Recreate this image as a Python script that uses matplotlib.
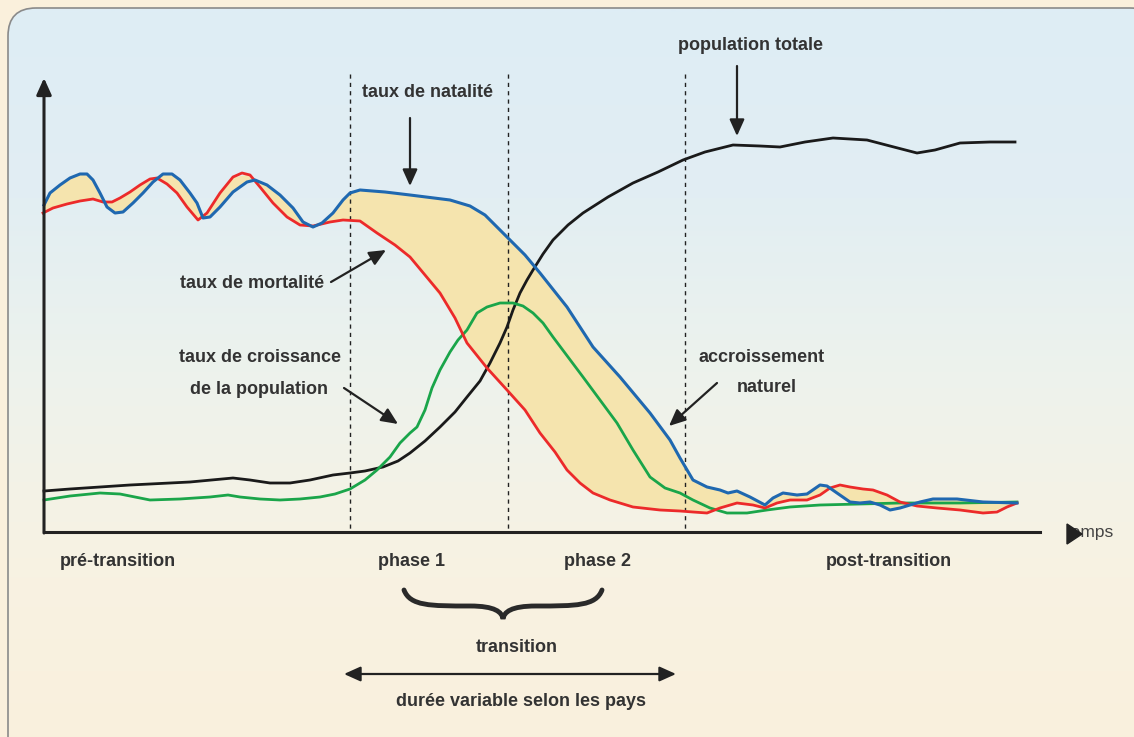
import matplotlib
matplotlib.use("Agg")
import matplotlib.pyplot as plt
import numpy as np
from matplotlib.patches import FancyBboxPatch, Polygon, PathPatch
from matplotlib.path import Path
from matplotlib.colors import LinearSegmentedColormap

# courbes (x = temps, y = niveau, en pixels du schéma)
natal_t = [44, 45, 50, 60, 70, 80, 87, 93, 100, 107, 115, 123, 133, 143, 153, 163, 172, 180, 190, 197,
           203, 210, 220, 233, 247, 255, 267, 280, 293, 303, 313, 322, 333, 343, 350, 360, 385, 410, 450,
           470, 485, 495, 507, 525, 540, 567, 593, 620, 650, 670, 680, 693, 707, 720, 728, 737, 750, 765,
           773, 783, 797, 807, 820, 827, 837, 850, 860, 870, 880, 890, 900, 910, 920, 933, 957, 983, 1017]
natal_y = [205, 203, 193, 185, 178, 174, 174, 180, 193, 207, 213, 212, 203, 193, 182, 174, 174, 180, 193, 203,
           218, 217, 207, 192, 182, 180, 185, 195, 208, 222, 227, 223, 213, 200, 193, 190, 192, 195, 200,
           206, 215, 225, 237, 255, 273, 307, 347, 377, 413, 440, 458, 480, 487, 490, 493, 491, 497, 505,
           498, 493, 495, 494, 485, 486, 493, 502, 503, 502, 505, 510, 508, 505, 502, 499, 499, 502, 503]

mort_t = [43, 53, 67, 80, 93, 103, 112, 120, 130, 140, 150, 157, 167, 177, 187, 198, 207, 220, 233, 242,
          250, 260, 273, 287, 300, 313, 330, 343, 360, 377, 395, 410, 425, 440, 455, 467, 487, 507, 525,
          540, 555, 567, 580, 593, 610, 633, 660, 680, 693, 707, 720, 737, 753, 765, 777, 790, 807, 820,
          830, 840, 850, 863, 873, 887, 900, 917, 937, 960, 983, 997, 1007, 1017]
mort_y = [213, 208, 204, 201, 199, 202, 202, 198, 192, 185, 179, 178, 184, 193, 207, 220, 213, 193, 177, 173,
          175, 187, 203, 217, 225, 226, 222, 220, 221, 233, 245, 257, 275, 293, 318, 343, 368, 390, 410,
          433, 452, 470, 483, 493, 500, 507, 510, 511, 512, 513, 508, 503, 505, 508, 503, 500, 500, 495,
          488, 485, 487, 489, 490, 495, 502, 506, 508, 510, 513, 512, 507, 503]

croiss_t = [44, 70, 100, 120, 135, 150, 180, 210, 228, 240, 260, 280, 300, 320, 335, 350, 365, 377, 390, 400,
            410, 417, 425, 432, 440, 450, 458, 467, 477, 487, 500, 513, 523, 533, 543, 553, 568, 583, 600,
            617, 633, 650, 665, 680, 693, 710, 727, 747, 767, 790, 820, 860, 900, 960, 1017]
croiss_y = [500, 496, 493, 494, 497, 500, 499, 497, 495, 497, 499, 500, 499, 497, 494, 489, 480, 470, 457, 443,
            433, 427, 410, 388, 370, 352, 340, 330, 313, 307, 303, 303, 306, 313, 323, 337, 357, 377, 400,
            423, 450, 477, 488, 493, 500, 508, 513, 513, 510, 507, 505, 504, 503, 503, 502]

pop_t = [44, 70, 100, 130, 150, 190, 233, 250, 270, 290, 310, 333, 350, 365, 383, 398, 410, 425, 440, 455,
         467, 480, 490, 500, 507, 513, 520, 527, 533, 543, 553, 568, 583, 608, 633, 658, 683, 705, 733,
         760, 780, 805, 833, 850, 867, 890, 917, 935, 960, 990, 1015]
pop_y = [491, 489, 487, 485, 484, 482, 478, 480, 483, 483, 480, 475, 473, 471, 467, 461, 453, 441, 427, 412,
         397, 381, 363, 343, 327, 310, 293, 280, 270, 254, 240, 225, 213, 197, 183, 172, 160, 152, 145,
         146, 147, 142, 138, 139, 140, 146, 153, 150, 143, 142, 142]

phase_limits = [350, 508, 685]

FONT = ['Liberation Sans', 'DejaVu Sans']
TXT = '#333333'

fig = plt.figure(figsize=(11.34, 7.37), dpi=100)
fig.patch.set_facecolor('#faf0dc')
ax = fig.add_axes([0, 0, 1, 1])
ax.set_xlim(0, 1134)
ax.set_ylim(737, 0)
ax.axis('off')

# cadre arrondi avec dégradé
box = FancyBboxPatch((8, 8), 1150, 760, boxstyle='round,pad=0,rounding_size=28',
                     facecolor='none', edgecolor='#8a8a8a', lw=1.2, zorder=2)
ax.add_patch(box)
cmap = LinearSegmentedColormap.from_list('bg', ['#deedf5', '#e2eef3', '#eef3ec', '#f8f2e2', '#faf0dc'])
grad = np.linspace(0, 1, 300).reshape(-1, 1)
im = ax.imshow(grad, cmap=cmap, extent=(8, 1158, 768, 8), aspect='auto', zorder=1)
im.set_clip_path(box)

# remplissage accroissement naturel
ax.fill_between(natal_t, natal_y, np.interp(natal_t, mort_t, mort_y), color='#f5e4ae', lw=0, zorder=3)

ax.plot(pop_t, pop_y, color='#1a1a1a', lw=2.0, zorder=5, solid_joinstyle='round')
ax.plot(croiss_t, croiss_y, color='#1aa54a', lw=2.0, zorder=5, solid_joinstyle='round')
ax.plot(mort_t, mort_y, color='#ec2a2a', lw=2.0, zorder=6, solid_joinstyle='round')
ax.plot(natal_t, natal_y, color='#1f68b0', lw=2.2, zorder=6, solid_joinstyle='round')

for x in phase_limits:
    ax.plot([x, x], [74, 531], color='#222222', lw=1.0, ls=(0, (3, 3)), zorder=4)

# axes
ax.plot([44, 1040], [532, 532], color='#222222', lw=2.2, zorder=7)
ax.annotate('', xy=(44, 78), xytext=(44, 533),
            arrowprops=dict(arrowstyle='-|>,head_length=1.0,head_width=0.45', color='#222222', lw=2.2,
                            shrinkA=0, shrinkB=0), zorder=7)
ax.add_patch(Polygon([[1067, 524], [1082, 534], [1067, 544]], closed=True, color='#222222', zorder=7))
ax.text(1067, 533, 'temps', fontsize=12.5, family=FONT, color='#444444', va='center', ha='left', zorder=6)

def arrow(xy, xytext):
    ax.annotate('', xy=xy, xytext=xytext,
                arrowprops=dict(arrowstyle='-|>,head_length=1.0,head_width=0.45', color='#222222', lw=1.6,
                                shrinkA=0, shrinkB=0), zorder=8)

def label(x, y, s, ha='center'):
    ax.text(x, y, s, fontsize=13, family=FONT, fontweight='bold', color=TXT,
            ha=ha, va='center', zorder=9)

label(428, 92, 'taux de natalité')
arrow((410, 186), (410, 118))
label(750, 45, 'population totale')
arrow((737, 136), (737, 66))
label(252, 283, 'taux de mortalité')
arrow((386, 250), (331, 282))
label(260, 357, 'taux de croissance')
label(259, 389, 'de la population')
arrow((398, 424), (344, 388))
label(762, 357, 'accroissement')
label(767, 387, 'naturel')
arrow((669, 426), (717, 383))

label(60, 562, 'pré-transition', ha='left')
label(412, 562, 'phase 1')
label(597, 562, 'phase 2')
label(889, 562, 'post-transition')
label(517, 648, 'transition')
label(521, 702, 'durée variable selon les pays')

# accolade
verts = [(404, 590), (410, 606), (430, 606), (470, 606), (495, 606), (502, 612), (503, 619),
         (504, 612), (511, 606), (536, 606), (576, 606), (596, 606), (602, 590)]
codes = [Path.MOVETO, Path.CURVE4, Path.CURVE4, Path.CURVE4, Path.CURVE4, Path.CURVE4, Path.CURVE4,
         Path.CURVE4, Path.CURVE4, Path.CURVE4, Path.CURVE4, Path.CURVE4, Path.CURVE4]
ax.add_patch(PathPatch(Path(verts, codes), facecolor='none', edgecolor='#2a2a2a', lw=3.5,
                       capstyle='round', zorder=8))

ax.annotate('', xy=(344, 674), xytext=(676, 674),
            arrowprops=dict(arrowstyle='<|-|>,head_length=1.0,head_width=0.45', color='#222222', lw=1.6,
                            shrinkA=0, shrinkB=0), zorder=8)

fig.savefig('out.png', dpi=100, facecolor=fig.get_facecolor())
